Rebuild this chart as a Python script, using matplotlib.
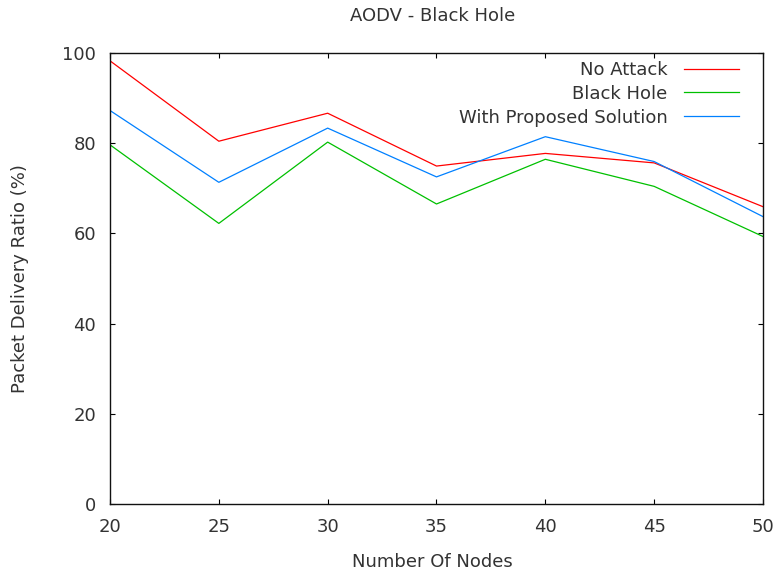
import matplotlib
matplotlib.use("Agg")
import matplotlib.pyplot as plt

nodes = [20, 25, 30, 35, 40, 45, 50]
no_attack = [98.2, 80.4, 86.6, 74.9, 77.7, 75.6, 65.9]
black_hole = [79.6, 62.2, 80.2, 66.5, 76.4, 70.4, 59.3]
proposed = [87.2, 71.3, 83.3, 72.5, 81.4, 75.9, 63.7]
series_labels = ["No Attack", "Black Hole", "With Proposed Solution"]
series_colors = ["#ff0000", "#00c000", "#0080ff"]

plt.rcParams['font.family'] = ['DejaVu Sans']
TXT = '#333333'
FS = 13

fig = plt.figure(figsize=(7.77, 5.79), dpi=100)
ax = fig.add_axes([110/777, 1 - 504.3/579, 653/777, 451.6/579])

for vals, lab, col in zip([no_attack, black_hole, proposed], series_labels, series_colors):
    ax.plot(nodes, vals, color=col, lw=0.9, label=lab)

ax.set_xlim(20, 50)
ax.set_ylim(0, 100)
ax.set_xticks(nodes)
ax.set_yticks([0, 20, 40, 60, 80, 100])
ax.tick_params(direction='in', length=3.6, width=0.8, top=True, right=True,
               labelsize=FS, labelcolor=TXT, pad=10)
for s in ax.spines.values():
    s.set_linewidth(1.0)
    s.set_color('#111111')

fig.text(432.5/777, 1 - 16/579, "AODV - Black Hole", ha='center', va='center',
         fontsize=FS, color=TXT)
fig.text(432.5/777, 1 - 561.7/579, "Number Of Nodes", ha='center', va='center',
         fontsize=FS, color=TXT)
fig.text(20/777, 1 - 278.5/579, "Packet Delivery Ratio (%)", ha='center', va='center',
         rotation=90, fontsize=FS, color=TXT)

leg = ax.legend(loc='upper right', bbox_to_anchor=(739/777, 1 - 61/579),
                bbox_transform=fig.transFigure, frameon=False, markerfirst=False,
                fontsize=FS, handlelength=3.05, handletextpad=0.9,
                labelspacing=0.32, borderaxespad=0, borderpad=0)
for t in leg.get_texts():
    t.set_color(TXT)

fig.savefig("out.png", dpi=100)
